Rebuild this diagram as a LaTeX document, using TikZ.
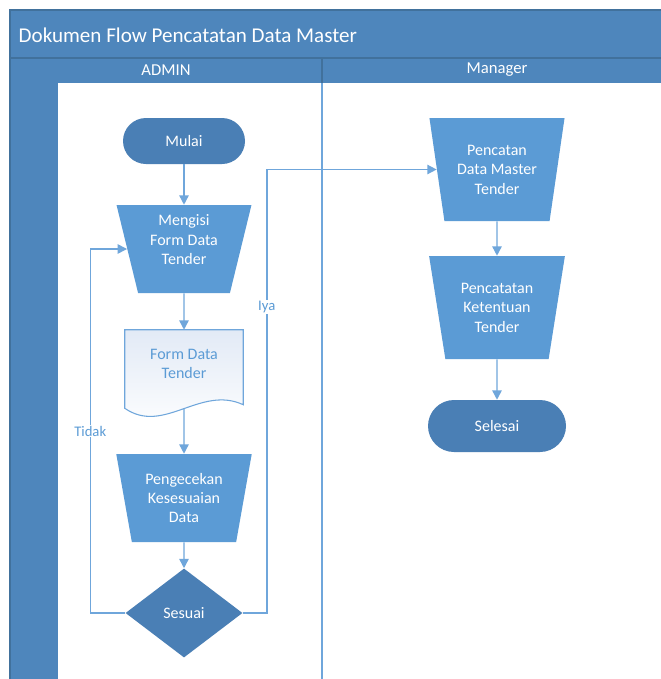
\documentclass[tikz,border=0pt]{standalone}
\usepackage{fontspec}
\setmainfont{Carlito}
\usetikzlibrary{shapes.geometric,arrows.meta,backgrounds}
\definecolor{poolblue}{HTML}{4E86BC}
\definecolor{poolline}{HTML}{41719C}
\definecolor{termblue}{HTML}{4A7FB5}
\definecolor{procblue}{HTML}{5B9BD5}
\definecolor{flowblue}{HTML}{6FA6DB}
\definecolor{docfill}{HTML}{E2EAF6}
\tikzset{
  terminal/.style={fill=termblue, text=white, rounded corners=17.25pt,
    minimum width=91.5pt, minimum height=34.5pt, inner sep=0pt,
    font=\fontsize{12}{14.6}\selectfont},
  process/.style={trapezium, trapezium left angle=77, trapezium right angle=77,
    trapezium stretches, shape border rotate=180, fill=procblue, text=white,
    minimum width=102pt, minimum height=66pt, inner sep=0pt, align=center,
    font=\fontsize{12}{14.6}\selectfont},
  decision/.style={diamond, fill=termblue, text=white, minimum width=87.75pt,
    minimum height=66.75pt, inner sep=0pt, font=\fontsize{12}{14.6}\selectfont},
  docbox/.style={minimum width=88.5pt, minimum height=58.5pt, inner sep=0pt,
    text=procblue, align=center, font=\fontsize{12}{14.6}\selectfont},
  flow/.style={draw=flowblue, line width=1.1pt, -{Triangle[length=7pt,width=7pt]}},
  lbl/.style={fill=white, text=procblue, inner sep=1pt,
    font=\fontsize{11}{13}\selectfont}
}
\begin{document}
\begin{tikzpicture}[x=0.75pt,y=-0.75pt]
  \useasboundingbox (0,0) rectangle (661,679);
  % Pool and lanes
  \begin{scope}[on background layer]
    \fill[poolblue] (10,10) rectangle (661,679);
    \fill[white] (58,83) rectangle (661,679);
    \draw[poolline, line width=0.8pt] (10,679) -- (10,10) -- (661,10);
    \draw[poolline, line width=0.8pt] (10,58) -- (661,58);
    \draw[poolline, line width=0.8pt] (322,58) -- (322,83);
    \draw[flowblue, line width=0.8pt] (322,83) -- (322,679);
  \end{scope}
  \node[anchor=west, text=white, font=\fontsize{15.8}{18}\selectfont] (title) at (14,35) {Dokumen Flow Pencatatan Data Master};
  \node[text=white, font=\fontsize{12.5}{14}\selectfont] (admin) at (166,70) {ADMIN};
  \node[text=white, font=\fontsize{12.5}{14}\selectfont] (manager) at (497,70) {Manager};
  % Define nodes
  \node[terminal] (mulai) at (184,141) {Mulai};
  \node[process] (mengisi) at (184,249) {Mengisi\\Form Data\\Tender\\[-0.4pt]};
  \node[docbox] (form) at (184,369) {Form Data\\Tender\\[-7pt]};
  \node[process] (cek) at (184,498) {Pengecekan\\Kesesuaian\\Data};
  \node[decision] (sesuai) at (184,613) {Sesuai};
  \node[process, minimum height=77.25pt] (pencatan) at (497,169.5) {Pencatan\\Data Master\\Tender};
  \node[process, minimum height=77.25pt] (ketentuan) at (497,307.5) {Pencatatan\\Ketentuan\\Tender};
  \node[terminal, minimum width=103.5pt, minimum height=39pt, rounded corners=19.5pt] (selesai) at (497,426) {Selesai};
  \begin{scope}[on background layer]
    \draw[flowblue, line width=0.8pt, top color=docfill, bottom color=white]
      (form.south west) -- (form.north west) -- (form.north east) -- ++(0,75)
      .. controls +(-43,-20) and +(39,27) .. (form.south west) -- cycle;
  \end{scope}
  % Connect nodes
  \draw[flow] (mulai) -- (mengisi);
  \draw[flow] (mengisi) -- (form);
  \draw[flow] (form) -- (cek);
  \draw[flow] (cek) -- (sesuai);
  \draw[flow] (sesuai.west) -- ++(-35,0) |- (mengisi.west) node[lbl, pos=.25] {Tidak};
  \draw[flow] (sesuai.east) -- ++(24,0) |- (pencatan.west) node[lbl, pos=.345] {Iya};
  \draw[flow] (pencatan) -- (ketentuan);
  \draw[flow] (ketentuan) -- (selesai);
\end{tikzpicture}
\end{document}
